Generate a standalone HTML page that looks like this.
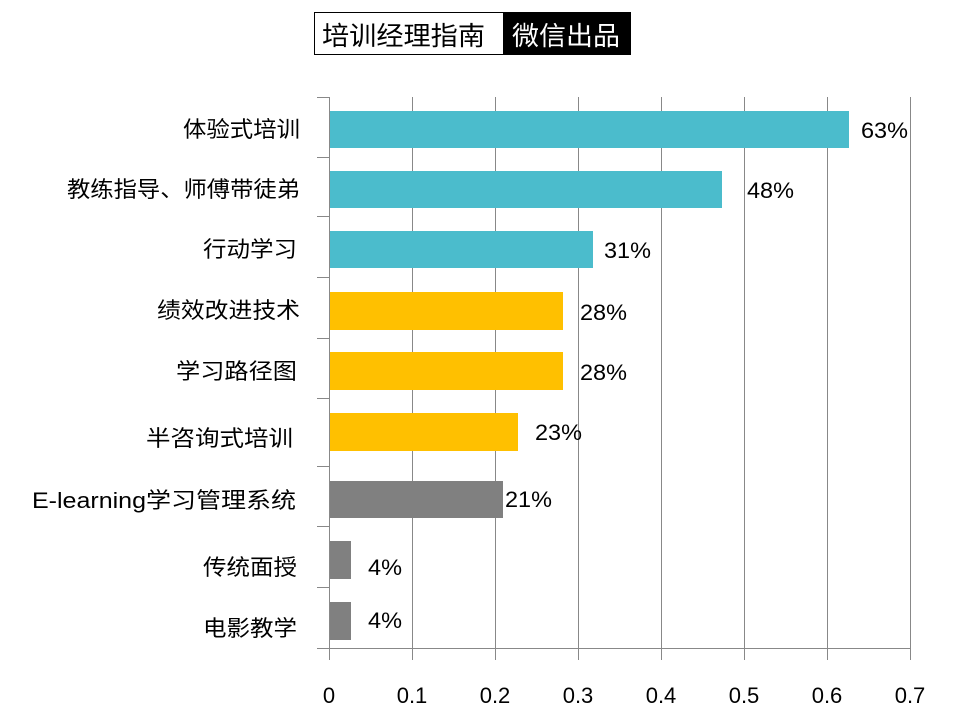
<!DOCTYPE html>
<html><head><meta charset="utf-8"><style>
body{margin:0;background:#fff;}
svg{display:block;font-family:"Liberation Sans","Noto Sans CJK SC",sans-serif;}
</style></head><body>
<svg width="960" height="720" xmlns="http://www.w3.org/2000/svg">
<rect x="314.5" y="12.5" width="189" height="42" fill="#fff" stroke="#000" stroke-width="1"/>
<rect x="503" y="12" width="128" height="43" fill="#000"/>
<text x="322" y="45" font-size="26" textLength="163" lengthAdjust="spacingAndGlyphs" fill="#000">培训经理指南</text>
<text x="512" y="45" font-size="26" textLength="108" lengthAdjust="spacingAndGlyphs" fill="#fff">微信出品</text>
<g stroke="#888" stroke-width="1">
<line x1="412.5" y1="97" x2="412.5" y2="660"/>
<line x1="495.5" y1="97" x2="495.5" y2="660"/>
<line x1="578.5" y1="97" x2="578.5" y2="660"/>
<line x1="661.5" y1="97" x2="661.5" y2="660"/>
<line x1="744.5" y1="97" x2="744.5" y2="660"/>
<line x1="827.5" y1="97" x2="827.5" y2="660"/>
<line x1="910.5" y1="97" x2="910.5" y2="660"/>
<line x1="329.5" y1="97" x2="329.5" y2="660"/>
<line x1="329" y1="648.5" x2="911" y2="648.5"/>
<line x1="317" y1="97.5" x2="329" y2="97.5"/>
<line x1="317" y1="157.5" x2="329" y2="157.5"/>
<line x1="317" y1="216.5" x2="329" y2="216.5"/>
<line x1="317" y1="277.5" x2="329" y2="277.5"/>
<line x1="317" y1="338.5" x2="329" y2="338.5"/>
<line x1="317" y1="398.5" x2="329" y2="398.5"/>
<line x1="317" y1="466.5" x2="329" y2="466.5"/>
<line x1="317" y1="526.5" x2="329" y2="526.5"/>
<line x1="317" y1="587.5" x2="329" y2="587.5"/>
<line x1="317" y1="648.5" x2="329" y2="648.5"/>
</g>
<rect x="330" y="111" width="519" height="37" fill="#4BBCCC"/>
<rect x="330" y="171" width="392" height="37" fill="#4BBCCC"/>
<rect x="330" y="231" width="263" height="37" fill="#4BBCCC"/>
<rect x="330" y="292" width="233" height="38" fill="#FFC000"/>
<rect x="330" y="352" width="233" height="38" fill="#FFC000"/>
<rect x="330" y="413" width="188" height="38" fill="#FFC000"/>
<rect x="330" y="481" width="173" height="37" fill="#808080"/>
<rect x="330" y="541" width="21" height="38" fill="#808080"/>
<rect x="330" y="602" width="21" height="38" fill="#808080"/>
<g font-size="22" fill="#000">
<text x="861" y="138" textLength="47" lengthAdjust="spacingAndGlyphs">63%</text>
<text x="747" y="198" textLength="47" lengthAdjust="spacingAndGlyphs">48%</text>
<text x="604" y="258" textLength="47" lengthAdjust="spacingAndGlyphs">31%</text>
<text x="580" y="320" textLength="47" lengthAdjust="spacingAndGlyphs">28%</text>
<text x="580" y="380" textLength="47" lengthAdjust="spacingAndGlyphs">28%</text>
<text x="535" y="440" textLength="47" lengthAdjust="spacingAndGlyphs">23%</text>
<text x="505" y="507" textLength="47" lengthAdjust="spacingAndGlyphs">21%</text>
<text x="368" y="575" textLength="34" lengthAdjust="spacingAndGlyphs">4%</text>
<text x="368" y="628" textLength="34" lengthAdjust="spacingAndGlyphs">4%</text>
</g>
<g font-size="22" fill="#000" lengthAdjust="spacingAndGlyphs">
<text x="183" y="137" textLength="117" lengthAdjust="spacingAndGlyphs">体验式培训</text>
<text x="67" y="197" textLength="233" lengthAdjust="spacingAndGlyphs">教练指导、师傅带徒弟</text>
<text x="203" y="257" textLength="94" lengthAdjust="spacingAndGlyphs">行动学习</text>
<text x="157" y="318" textLength="143" lengthAdjust="spacingAndGlyphs">绩效改进技术</text>
<text x="176" y="379" textLength="121" lengthAdjust="spacingAndGlyphs">学习路径图</text>
<text x="146" y="446" textLength="147" lengthAdjust="spacingAndGlyphs">半咨询式培训</text>
<text x="32" y="508" textLength="264" lengthAdjust="spacingAndGlyphs">E-learning学习管理系统</text>
<text x="203" y="575" textLength="94" lengthAdjust="spacingAndGlyphs">传统面授</text>
<text x="203" y="636" textLength="94" lengthAdjust="spacingAndGlyphs">电影教学</text>
</g>
<g font-size="22" fill="#000" text-anchor="middle">
<text x="329" y="703">0</text>
<text x="412" y="703">0.1</text>
<text x="495" y="703">0.2</text>
<text x="578" y="703">0.3</text>
<text x="661" y="703">0.4</text>
<text x="744" y="703">0.5</text>
<text x="827" y="703">0.6</text>
<text x="910" y="703">0.7</text>
</g>
</svg>
</body></html>
